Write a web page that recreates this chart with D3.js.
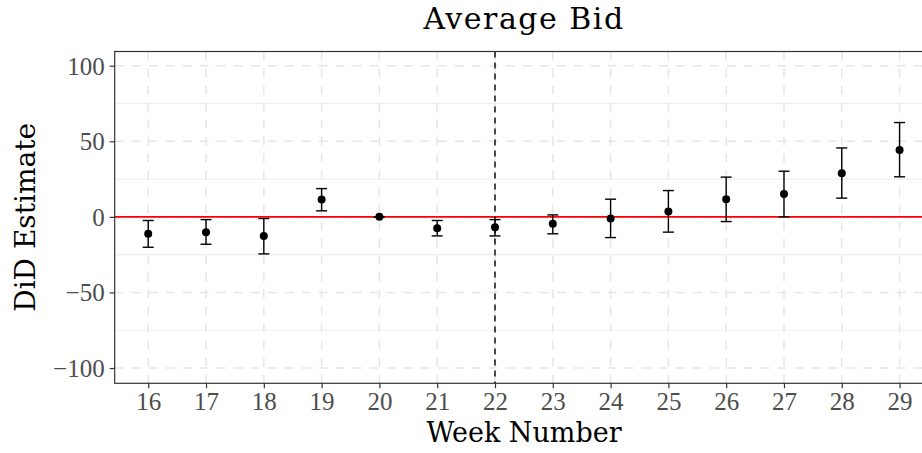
<!DOCTYPE html>
<html>
<head>
<meta charset="utf-8">
<script src="https://cdn.jsdelivr.net/npm/d3@7"></script>
<style>
  html, body { margin: 0; padding: 0; background: #ffffff; }
  svg { display: block; }
</style>
</head>
<body>
<svg id="chart" width="922" height="453"></svg>
<script>
// Event-study estimates by week
const weeks     = [16, 17, 18, 19, 20, 21, 22, 23, 24, 25, 26, 27, 28, 29];
const estimates = [-11.2, -10.1, -12.6, 11.5, 0, -7.5, -6.8, -4.6, -1.1, 3.5, 11.7, 15.2, 28.9, 44.3];
const lowerCI   = [-20.1, -18.1, -24.5, 4.0, 0, -12.6, -12.6, -11.2, -13.7, -10.1, -3.1, 0.0, 12.4, 26.5];
const upperCI   = [-2.4, -1.8, -1.1, 18.7, 0, -2.4, -1.8, 1.3, 11.7, 17.4, 26.3, 30.2, 45.6, 62.4];
const yMajorTicks = [-100, -50, 0, 50, 100];
const yMinorTicks = [-75, -25, 25, 75];
const treatmentWeek = 22;
const titleText = "Average Bid";
const xTitle = "Week Number";
const yTitle = "DiD Estimate";

const rows = weeks.map((w, i) => ({ week: w, est: estimates[i], lo: lowerCI[i], hi: upperCI[i] }));

const svg = d3.select("#chart");
const W = 922, H = 453;
const panel = { left: 114.7, right: 933.1, top: 51.5, bottom: 383.3 };

const x = d3.scaleLinear().domain([15.42, 29.58]).range([panel.left, panel.right]);
const y = d3.scaleLinear().domain([-110.1, 109.4]).range([panel.bottom, panel.top]);

svg.append("rect").attr("width", W).attr("height", H).attr("fill", "#ffffff");

const g = svg.append("g");

// minor horizontal grid
g.selectAll(".minor").data(yMinorTicks).join("line")
  .attr("x1", panel.left).attr("x2", panel.right)
  .attr("y1", d => y(d)).attr("y2", d => y(d))
  .attr("stroke", "#efefef").attr("stroke-width", 1.1);

// major horizontal grid (dashed)
g.selectAll(".major").data(yMajorTicks).join("line")
  .attr("x1", panel.left).attr("x2", panel.right)
  .attr("y1", d => y(d)).attr("y2", d => y(d))
  .attr("stroke", "#e6e6e6").attr("stroke-width", 1.5)
  .attr("stroke-dasharray", "9,8");

// vertical grid (dashed)
g.selectAll(".vgrid").data(weeks).join("line")
  .attr("x1", d => x(d)).attr("x2", d => x(d))
  .attr("y1", panel.top).attr("y2", panel.bottom)
  .attr("stroke", "#e6e6e6").attr("stroke-width", 1.5)
  .attr("stroke-dasharray", "9,8");

// zero reference line
g.append("line")
  .attr("x1", panel.left).attr("x2", panel.right)
  .attr("y1", y(0)).attr("y2", y(0))
  .attr("stroke", "#ff0000").attr("stroke-width", 1.6);

// treatment week marker
g.append("line")
  .attr("x1", x(treatmentWeek)).attr("x2", x(treatmentWeek))
  .attr("y1", panel.top).attr("y2", panel.bottom)
  .attr("stroke", "#000000").attr("stroke-width", 1.4)
  .attr("stroke-dasharray", "6,5");

// error bars
const capHalf = 5.5;
const eb = g.selectAll(".eb").data(rows).join("g");
eb.append("line")
  .attr("x1", d => x(d.week)).attr("x2", d => x(d.week))
  .attr("y1", d => y(d.lo)).attr("y2", d => y(d.hi))
  .attr("stroke", "#000").attr("stroke-width", 1.4);
eb.append("line")
  .attr("x1", d => x(d.week) - capHalf).attr("x2", d => x(d.week) + capHalf)
  .attr("y1", d => y(d.lo)).attr("y2", d => y(d.lo))
  .attr("stroke", "#000").attr("stroke-width", 1.4);
eb.append("line")
  .attr("x1", d => x(d.week) - capHalf).attr("x2", d => x(d.week) + capHalf)
  .attr("y1", d => y(d.hi)).attr("y2", d => y(d.hi))
  .attr("stroke", "#000").attr("stroke-width", 1.4);

// point estimates
g.selectAll(".pt").data(rows).join("circle")
  .attr("cx", d => x(d.week)).attr("cy", d => y(d.est))
  .attr("r", 4).attr("fill", "#000");

// panel border
svg.append("rect")
  .attr("x", panel.left).attr("y", panel.top)
  .attr("width", panel.right - panel.left).attr("height", panel.bottom - panel.top)
  .attr("fill", "none").attr("stroke", "#333333").attr("stroke-width", 1.2);

// axes
const tickFont = "'Liberation Serif', serif";
const yAxis = d3.axisLeft(y).tickValues(yMajorTicks).tickSize(5).tickPadding(5)
  .tickFormat(d3.format("d"));
const yAx = svg.append("g").attr("transform", `translate(${panel.left},0)`).call(yAxis);
yAx.select(".domain").remove();
yAx.selectAll(".tick line").attr("stroke", "#333333").attr("stroke-width", 1.2);
yAx.selectAll(".tick text")
  .attr("font-family", tickFont).attr("font-size", 25).attr("fill", "#4d4d4d")
  .attr("dy", "0.34em");

const xAxis = d3.axisBottom(x).tickValues(weeks).tickSize(5).tickPadding(4)
  .tickFormat(d3.format("d"));
const xAx = svg.append("g").attr("transform", `translate(0,${panel.bottom})`).call(xAxis);
xAx.select(".domain").remove();
xAx.selectAll(".tick line").attr("stroke", "#333333").attr("stroke-width", 1.2);
xAx.selectAll(".tick text")
  .attr("font-family", tickFont).attr("font-size", 25).attr("fill", "#4d4d4d")
  .attr("dy", "0.72em");

// titles
const titleFont = "'DejaVu Serif', serif";
const cx = 524;
svg.append("text").attr("x", cx).attr("y", 29)
  .attr("text-anchor", "middle").attr("font-family", titleFont)
  .attr("font-size", 30).attr("letter-spacing", 1.5)
  .attr("fill", "#000").text(titleText);

svg.append("text").attr("x", cx).attr("y", 442)
  .attr("text-anchor", "middle").attr("font-family", titleFont)
  .attr("font-size", 27).attr("fill", "#000").text(xTitle);

svg.append("text")
  .attr("transform", `translate(35,${(panel.top + panel.bottom) / 2}) rotate(-90)`)
  .attr("text-anchor", "middle").attr("font-family", titleFont)
  .attr("font-size", 28).attr("fill", "#000").text(yTitle);
</script>
</body>
</html>
